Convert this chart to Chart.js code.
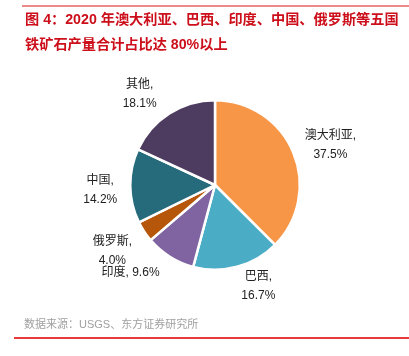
<!DOCTYPE html>
<html>
<head>
<meta charset="utf-8">
<script src="https://cdn.jsdelivr.net/npm/chart.js@4/dist/chart.umd.min.js"></script>
<style>
  html, body { margin: 0; padding: 0; background: #fff; }
  #wrap { position: relative; width: 409px; height: 356px; overflow: hidden; font-family: "Liberation Sans", "Noto Sans CJK SC", sans-serif; }
  #c { position: absolute; left: 0; top: 0; }
  .topline { position: absolute; left: 22px; top: 5px; width: 387px; height: 1.5px; background: #ec8a8a; }
  .botline { position: absolute; left: 14px; top: 337px; width: 395px; height: 1.5px; background: #e83a3a; }
  .title { position: absolute; left: 25px; color: #cc0f1a; font-size: 14.2px; font-weight: bold; white-space: nowrap; line-height: 1; }
  .src { position: absolute; left: 24px; top: 319px; color: #a0a0a0; font-size: 11px; white-space: nowrap; line-height: 1; }
</style>
</head>
<body>
<div id="wrap">
  <canvas id="c" width="409" height="356"></canvas>
  <div class="topline"></div>
  <div class="title" style="top:12px">图 4：2020 年澳大利亚、巴西、印度、中国、俄罗斯等五国</div>
  <div class="title" style="top:37px">铁矿石产量合计占比达 80%以上</div>
  <div class="src">数据来源：USGS、东方证券研究所</div>
  <div class="botline"></div>
</div>
<script>
const categories = ["澳大利亚", "巴西", "印度", "俄罗斯", "中国", "其他"];
const shares = [37.5, 16.7, 9.6, 4.0, 14.2, 18.1];
const sliceColors = ["#f79646", "#4bacc6", "#8064a2", "#b5560a", "#256b7b", "#4e3b60"];

// label placement (style): distance from arc edge and pixel shift, single-line flag
const labelLayout = [
  { d: 37, sx: 3, sy: 7, one: false },
  { d: 20, sx: 16, sy: 0, one: false },
  { d: 25, sx: -26, sy: -5, one: true },
  { d: 37, sx: -1, sy: -1, one: false },
  { d: 30, sx: 0, sy: 4, one: false },
  { d: 33, sx: -12, sy: 8, one: false }
];

const labelPlugin = {
  id: 'outerLabels',
  afterDatasetsDraw(chart) {
    const ctx = chart.ctx;
    const meta = chart.getDatasetMeta(0);
    ctx.save();
    ctx.font = '12px "Liberation Sans", "Noto Sans CJK SC", sans-serif';
    ctx.fillStyle = '#222';
    ctx.textAlign = 'center';
    ctx.textBaseline = 'middle';
    meta.data.forEach((arc, i) => {
      const p = arc.getProps(['x', 'y', 'startAngle', 'endAngle', 'outerRadius'], true);
      const mid = (p.startAngle + p.endAngle) / 2;
      const L = labelLayout[i];
      const r = p.outerRadius + L.d;
      const cx = p.x + Math.cos(mid) * r + L.sx;
      const cy = p.y + Math.sin(mid) * r + L.sy;
      const val = chart.data.datasets[0].data[i].toFixed(1) + '%';
      const name = chart.data.labels[i];
      if (L.one) {
        ctx.fillText(name + ', ' + val, cx, cy);
      } else {
        ctx.fillText(name + ',', cx, cy - 9.5);
        ctx.fillText(val, cx, cy + 9.5);
      }
    });
    ctx.restore();
  }
};

new Chart(document.getElementById('c'), {
  type: 'pie',
  data: {
    labels: categories,
    datasets: [{
      data: shares,
      backgroundColor: sliceColors,
      borderColor: '#ffffff',
      borderWidth: 2.5
    }]
  },
  options: {
    responsive: false,
    animation: false,
    layout: { padding: { top: 99, bottom: 85, left: 129, right: 108 } },
    plugins: {
      legend: { display: false },
      tooltip: { enabled: false },
      title: { display: false }
    }
  },
  plugins: [labelPlugin]
});
</script>
</body>
</html>
